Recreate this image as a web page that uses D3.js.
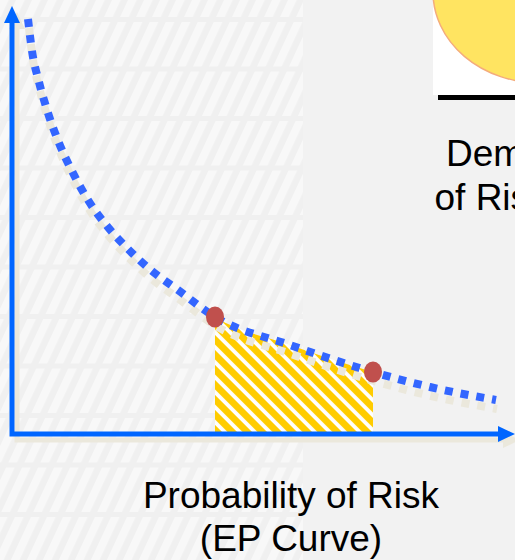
<!DOCTYPE html>
<html>
<head>
<meta charset="utf-8">
<script src="https://cdn.jsdelivr.net/npm/d3@7"></script>
<style>
  html, body { margin: 0; padding: 0; background: #f2f2f2; overflow: hidden; }
  svg { display: block; }
</style>
</head>
<body>
<svg id="chart" width="515" height="560"></svg>
<script>
// Exceedance-probability (EP) curve: probability on x, loss level on y
const probability = [3.2, 4, 5.4, 7.2, 9.4, 12.2, 15.2, 19, 23.2, 28, 33.2, 40.6, 55.6, 72.2, 83.6, 96.8];
const lossLevel   = [103.75, 95.75, 88, 80.25, 72.75, 65.25, 58.5, 52, 46.25, 40.75, 36, 29.25, 22.25, 15.5, 11.75, 8.5];
// the two marked points bounding the shaded band
const markedIdx = [11, 13];
const axisTitle = ["Probability of Risk", "(EP Curve)"];
const sideTitle = ["Demand", "of Risk"];

const W = 515, H = 560;
const svg = d3.select("#chart");

const x = d3.scaleLinear().domain([0, 100]).range([12, 512]);
const y = d3.scaleLinear().domain([0, 100]).range([434, 34]);

const pts = probability.map((p, i) => [p, lossLevel[i]]);

const defs = svg.append("defs");

// faint diagonal texture on the left backdrop
const bg = defs.append("pattern")
  .attr("id", "backHatch")
  .attr("patternUnits", "userSpaceOnUse")
  .attr("width", 14.5).attr("height", 40)
  .attr("patternTransform", "rotate(25)");
bg.append("rect").attr("width", 14.5).attr("height", 40).attr("fill", "#f0f0f0");
bg.append("rect").attr("width", 8).attr("height", 40).attr("fill", "#f8f8f8");

// yellow / white stripes for the shaded band
const yh = defs.append("pattern")
  .attr("id", "bandHatch")
  .attr("patternUnits", "userSpaceOnUse")
  .attr("width", 10.6).attr("height", 20)
  .attr("patternTransform", "rotate(-45)");
yh.append("rect").attr("width", 10.6).attr("height", 20).attr("fill", "#ffcc00");
yh.append("rect").attr("width", 3.8).attr("height", 20).attr("fill", "#ffffff");

defs.append("clipPath").attr("id", "bandClip")
  .append("rect")
  .attr("x", x(probability[markedIdx[0]]))
  .attr("y", 0)
  .attr("width", x(probability[markedIdx[1]]) - x(probability[markedIdx[0]]))
  .attr("height", H);

// backdrop
svg.append("rect").attr("width", W).attr("height", H).attr("fill", "#f2f2f2");
svg.append("rect").attr("x", 0).attr("y", 0).attr("width", 303).attr("height", H)
  .attr("fill", "url(#backHatch)");
svg.append("g").selectAll("rect")
  .data(d3.range(17, H, 49.5))
  .join("rect")
  .attr("x", 0).attr("y", d => d).attr("width", 303).attr("height", 5)
  .attr("fill", "#f0f0f0");

// inset panel in the upper right
svg.append("rect").attr("x", 433).attr("y", 0).attr("width", 82).attr("height", 95).attr("fill", "#ffffff");
svg.append("ellipse").attr("cx", 540).attr("cy", -8).attr("rx", 107).attr("ry", 91)
  .attr("fill", "#ffe461").attr("stroke", "#f4ac7c").attr("stroke-width", 1.5);
svg.append("line").attr("x1", 438).attr("x2", 515).attr("y1", 97.5).attr("y2", 97.5)
  .attr("stroke", "#000").attr("stroke-width", 5);

svg.append("g")
  .attr("font-family", "'Liberation Sans', Arial, sans-serif")
  .attr("font-size", 37).attr("fill", "#000")
  .selectAll("text").data(sideTitle).join("text")
  .attr("x", (d, i) => i === 0 ? 446 : 434.5)
  .attr("y", (d, i) => 166 + i * 44)
  .text(d => d);

// shaded band under the curve between the marked points
const area = d3.area()
  .x(d => x(d[0])).y0(y(0)).y1(d => y(d[1]))
  .curve(d3.curveMonotoneX);
svg.append("path")
  .datum(pts)
  .attr("d", area)
  .attr("fill", "url(#bandHatch)")
  .attr("clip-path", "url(#bandClip)");

// axes with arrowheads (shadow first, then the line)
function drawAxes(g, color) {
  g.append("path")
    .attr("d", `M${x(0)},22 L${x(0)},${y(0)} L499,${y(0)}`)
    .attr("fill", "none").attr("stroke", color).attr("stroke-width", 5)
    .attr("stroke-linejoin", "miter");
  g.append("path").attr("d", `M${x(0)},6 L${x(0) + 8},23 L${x(0) - 8},23 Z`).attr("fill", color);
  g.append("path").attr("d", `M515,${y(0)} L498,${y(0) - 8} L498,${y(0) + 8} Z`).attr("fill", color);
}
drawAxes(svg.append("g").attr("transform", "translate(5,6)"), "#ebe8dc");

// dotted EP curve
const line = d3.line().x(d => x(d[0])).y(d => y(d[1])).curve(d3.curveMonotoneX);
svg.append("path").datum(pts).attr("d", line)
  .attr("transform", "translate(1,9)")
  .attr("fill", "none").attr("stroke", "#ebe8dc").attr("stroke-width", 8)
  .attr("stroke-dasharray", "8,8");

drawAxes(svg.append("g"), "#0066ff");

svg.append("path").datum(pts).attr("d", line)
  .attr("fill", "none").attr("stroke", "#3366ff").attr("stroke-width", 8)
  .attr("stroke-dasharray", "8,8");

// marked points
svg.append("g").selectAll("ellipse")
  .data(markedIdx.map(i => pts[i]))
  .join("ellipse")
  .attr("cx", d => x(d[0])).attr("cy", d => y(d[1]))
  .attr("rx", 9).attr("ry", 10.5)
  .attr("fill", "#c0504d");

// axis caption
svg.append("g")
  .attr("font-family", "'Liberation Sans', Arial, sans-serif")
  .attr("font-size", 37).attr("fill", "#000").attr("text-anchor", "middle")
  .selectAll("text").data(axisTitle).join("text")
  .attr("x", 291)
  .attr("y", (d, i) => 508 + i * 43)
  .text(d => d);
</script>
</body>
</html>
